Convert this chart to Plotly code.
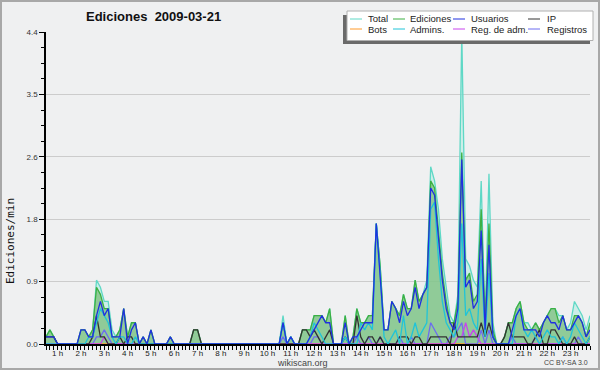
import plotly.graph_objects as go

# 10-minute bins, 00:30 ... 23:50 (hours)
HOURS = [(i + 3) / 6 for i in range(141)]

HOUR_TICKS = [1, 2, 3, 4, 5, 6, 7, 8, 9, 10, 11, 12, 13, 14, 15, 16, 17, 18, 19, 20, 21, 22, 23]
HOUR_LABELS = ["1 h", "2 h", "3 h", "4 h", "5 h", "6 h", "7 h", "8 h", "9 h", "10 h", "11 h", "12 h",
               "13 h", "14 h", "15 h", "16 h", "17 h", "18 h", "19 h", "20 h", "21 h", "22 h", "23 h"]
Y_TICKS = [0, 0.88, 1.76, 2.64, 3.52, 4.4]
Y_LABELS = ["0.0", "0.9", "1.8", "2.6", "3.5", "4.4"]

TOTAL = [
    .1, .2, .1, 0, 0, 0, 0, 0, 0, .2,
    .2, .1, .2, .9, .8, .6, .6, .2, .1, .2,
    .5, .1, .3, .3, 0, .1, 0, .2, 0, 0,
    0, 0, .1, 0, 0, 0, 0, 0, .2, .2,
    0, 0, 0, 0, 0, 0, 0, 0, 0, 0,
    0, 0, 0, 0, 0, 0, 0, 0, 0, 0,
    0, .4, 0, .1, 0, 0, .2, .2, .2, .4,
    .4, .4, .3, .5, 0, 0, 0, .4, 0, .1,
    .5, .3, .3, .4, .4, 1.7, 1.1, .2, .2, .6,
    .5, .4, .7, .5, .5, .9, .6, .7, .9, 2.5,
    2.3, 1.9, 1.2, .8, .4, .3, .7, 4.4, 1.2, 1.1,
    .9, .8, 2.3, .3, 2.4, .3, 0, 0, .1, .3,
    .3, .5, .6, .3, .3, .2, .3, .2, .3, .4,
    .5, .5, .4, .4, .2, .3, .6, .5, .4, .2,
    .4]

EDICIONES = [
    .1, .2, .1, 0, 0, 0, 0, 0, 0, .2,
    .2, .1, .2, .8, .7, .5, .5, .1, .1, .2,
    .5, .1, .3, .3, 0, .1, 0, .2, 0, 0,
    0, 0, .1, 0, 0, 0, 0, 0, .2, .2,
    0, 0, 0, 0, 0, 0, 0, 0, 0, 0,
    0, 0, 0, 0, 0, 0, 0, 0, 0, 0,
    0, .3, 0, .1, 0, 0, .2, .2, .2, .4,
    .4, .4, .3, .5, 0, 0, 0, .4, 0, .1,
    .5, .3, .3, .4, .4, 1.7, 1.1, .2, .2, .6,
    .5, .4, .7, .5, .5, .9, .6, .7, .8, 2.3,
    2.2, 1.6, 1.0, .6, .3, .3, .6, 2.7, .9, 1.0,
    .6, .7, 1.9, .3, 1.7, .2, 0, 0, .1, .3,
    .3, .5, .6, .3, .2, .2, .3, .2, .3, .4,
    .5, .5, .3, .4, .2, .2, .4, .4, .3, .1,
    .3]

USUARIOS = [
    .1, .1, .1, 0, 0, 0, 0, 0, 0, .2,
    .2, .1, .1, .4, .6, .4, .5, .1, .1, .1,
    .5, 0, .2, .3, 0, .1, 0, .2, 0, 0,
    0, 0, .1, 0, 0, 0, 0, 0, 0, 0,
    0, 0, 0, 0, 0, 0, 0, 0, 0, 0,
    0, 0, 0, 0, 0, 0, 0, 0, 0, 0,
    0, .3, 0, .1, 0, 0, 0, 0, .1, .2,
    .3, .4, .3, .3, 0, 0, 0, .3, 0, .1,
    .1, .2, .3, .3, .3, 1.7, 1.0, .2, .2, .6,
    .5, .3, .6, .4, .5, .8, .5, .7, .8, 2.2,
    2.1, 1.5, .9, .5, .3, .2, .5, 2.6, .8, .9,
    .5, .6, 1.6, .2, 1.4, .1, 0, 0, 0, 0,
    .2, .4, .5, .2, .2, .2, .2, .1, .3, .4,
    .3, .3, .2, .4, .2, .2, .3, .4, .3, .1,
    .2]

IP = [
    .1, .1, .1, 0, 0, 0, 0, 0, 0, 0,
    0, 0, .1, .4, .1, .1, 0, 0, 0, .1,
    0, .1, .1, 0, 0, 0, 0, 0, 0, 0,
    0, 0, 0, 0, 0, 0, 0, 0, .2, .2,
    0, 0, 0, 0, 0, 0, 0, 0, 0, 0,
    0, 0, 0, 0, 0, 0, 0, 0, 0, 0,
    0, 0, 0, 0, 0, 0, .2, .2, .1, .2,
    .1, 0, .1, .2, 0, 0, 0, .1, 0, 0,
    .4, .1, 0, .1, .1, 0, .1, 0, 0, 0,
    0, .1, .1, .1, 0, .1, .1, 0, 0, .1,
    .1, .1, .1, .1, 0, .3, .1, .1, .1, .1,
    .1, .1, .3, .1, .3, .1, 0, 0, .1, .3,
    .1, .1, .1, .1, 0, 0, .1, .2, 0, 0,
    .2, .2, .1, 0, 0, 0, .1, 0, 0, 0,
    .1]

BOTS = [0] * 141

ADMINS = [
    0, 0, 0, 0, 0, 0, 0, 0, 0, 0,
    0, .1, .1, .3, .5, .4, .3, .1, 0, .1,
    .1, 0, 0, .1, 0, 0, 0, 0, 0, 0,
    0, 0, 0, 0, 0, 0, 0, 0, 0, 0,
    0, 0, 0, 0, 0, 0, 0, 0, 0, 0,
    0, 0, 0, 0, 0, 0, 0, 0, 0, 0,
    0, .3, 0, .1, 0, 0, 0, 0, .1, .3,
    .2, .1, 0, 0, 0, 0, 0, .1, 0, 0,
    0, .3, .2, .3, .2, 1.7, 1.0, .1, 0, .1,
    .2, 0, .4, 0, .1, .3, .1, .2, .3, 1.9,
    2.0, 1.2, .6, .3, .2, .1, .3, 1.7, .4, .5,
    .3, .2, 1.2, .1, 1.0, .1, 0, 0, 0, 0,
    0, .4, .5, .2, .1, .2, .1, 0, .1, .2,
    .1, .1, 0, .1, 0, .1, .3, .2, .1, 0,
    .1]

REG_ADM = [
    0, 0, 0, 0, 0, 0, 0, 0, 0, 0,
    0, 0, 0, 0, 0, .1, 0, 0, 0, 0,
    0, 0, 0, 0, 0, 0, 0, 0, 0, 0,
    0, 0, 0, 0, 0, 0, 0, 0, 0, 0,
    0, 0, 0, 0, 0, 0, 0, 0, 0, 0,
    0, 0, 0, 0, 0, 0, 0, 0, 0, 0,
    0, 0, 0, 0, 0, 0, 0, 0, 0, 0,
    0, 0, 0, 0, 0, 0, 0, 0, 0, 0,
    0, 0, 0, 0, 0, 0, 0, 0, 0, 0,
    0, 0, 0, 0, 0, 0, 0, 0, 0, 0,
    0, 0, 0, 0, 0, 0, .1, .1, .3, .1,
    .2, .1, 0, 0, 0, 0, 0, 0, 0, 0,
    0, 0, 0, 0, 0, 0, 0, 0, 0, 0,
    0, 0, 0, 0, 0, 0, 0, 0, 0, 0,
    0]

REGISTROS = [
    0, 0, 0, 0, 0, 0, 0, 0, 0, 0,
    0, 0, 0, .1, .1, .2, .1, 0, 0, 0,
    0, 0, 0, 0, 0, 0, 0, 0, 0, 0,
    0, 0, 0, 0, 0, 0, 0, 0, 0, 0,
    0, 0, 0, 0, 0, 0, 0, 0, 0, 0,
    0, 0, 0, 0, 0, 0, 0, 0, 0, 0,
    0, .1, 0, 0, 0, 0, 0, 0, 0, .1,
    .1, 0, 0, 0, 0, 0, 0, 0, 0, 0,
    .1, 0, 0, .1, 0, 0, .1, 0, 0, 0,
    0, .1, 0, 0, .1, 0, 0, 0, 0, .3,
    .2, .1, 0, 0, .1, .1, .2, .3, 0, 0,
    0, 0, .2, 0, .2, 0, 0, 0, 0, 0,
    .1, 0, 0, 0, 0, 0, .1, 0, 0, 0,
    0, 0, 0, .1, 0, 0, 0, .1, 0, 0,
    0]

SERIES = ["Total", "Ediciones", "Usuarios", "IP", "Bots", "Admins.", "Reg. de adm.", "Registros"]
COLORS = {"Total": "#5fd8c6", "Ediciones": "#3cb043", "Usuarios": "#2030e0", "IP": "#333333",
          "Bots": "#ff9a2a", "Admins.": "#20c4d8", "Reg. de adm.": "#c844ee", "Registros": "#6c6cf0"}
VALUES = {"Total": TOTAL, "Ediciones": EDICIONES, "Usuarios": USUARIOS, "IP": IP, "Bots": BOTS,
          "Admins.": ADMINS, "Reg. de adm.": REG_ADM, "Registros": REGISTROS}

W, H = 600, 370
ML, MR, MT, MB = 46, 10, 32, 26
PW, PH = W - ML - MR, H - MT - MB


def px(x):
    return (x - ML) / PW


def py(y):
    return (H - MB - y) / PH


fig = go.Figure()
fig.add_trace(go.Scatter(x=HOURS, y=TOTAL, mode="lines", fill="tozeroy",
                         fillcolor="rgba(175,236,224,0.55)",
                         line=dict(color=COLORS["Total"], width=1.3), name="Total"))
fig.add_trace(go.Scatter(x=HOURS, y=EDICIONES, mode="lines", fill="tozeroy",
                         fillcolor="rgba(120,190,120,0.72)",
                         line=dict(color=COLORS["Ediciones"], width=1.3), name="Ediciones"))
for name in ["Bots", "Registros", "Reg. de adm.", "IP", "Admins.", "Usuarios"]:
    fig.add_trace(go.Scatter(x=HOURS, y=VALUES[name], mode="lines",
                             line=dict(color=COLORS[name], width=1.3), name=name))

shapes = []
annotations = []
# outer frame
shapes.append(dict(type="rect", xref="paper", yref="paper", x0=px(1), x1=px(599), y0=py(1), y1=py(369),
                   line=dict(color="#a8a8a8", width=2), layer="above"))
# legend box with shadow
shapes.append(dict(type="rect", xref="paper", yref="paper", x0=px(343), x1=px(590), y0=py(15), y1=py(44),
                   fillcolor="#6a6a6a", line=dict(width=0), layer="above"))
shapes.append(dict(type="rect", xref="paper", yref="paper", x0=px(347), x1=px(593), y0=py(11), y1=py(40.5),
                   fillcolor="white", line=dict(color="#b0b0b0", width=1), layer="above"))

cols = [(350, 366), (393, 408), (453, 469), (528, 545)]
rows = [19, 29]
for k, name in enumerate(SERIES):
    c, r = k % 4, k // 4
    lx, tx = cols[c]
    yy = rows[r]
    shapes.append(dict(type="line", xref="paper", yref="paper", x0=px(lx), x1=px(lx + 12), y0=py(yy), y1=py(yy),
                       line=dict(color=COLORS[name], width=1), layer="above"))
    annotations.append(dict(text=name, xref="paper", yref="paper", x=px(tx), y=py(yy), xanchor="left",
                            yanchor="middle", showarrow=False,
                            font=dict(family="Liberation Sans", size=9.5, color="#222")))

annotations.append(dict(text="<b>Ediciones\u00a0 2009-03-21</b>", xref="paper", yref="paper", x=px(153.5),
                        y=py(16.5), xanchor="center", yanchor="middle", showarrow=False,
                        font=dict(family="Liberation Sans", size=13, color="#111")))
annotations.append(dict(text="Ediciones/min", xref="paper", yref="paper", x=px(10), y=py(241), textangle=-90,
                        xanchor="center", yanchor="middle", showarrow=False,
                        font=dict(family="DejaVu Sans Mono", size=11, color="#111")))
annotations.append(dict(text="wikiscan.org", xref="paper", yref="paper", x=px(302), y=py(363),
                        xanchor="center", yanchor="middle", showarrow=False,
                        font=dict(family="Liberation Sans", size=9, color="#444")))
annotations.append(dict(text="CC BY-SA 3.0", xref="paper", yref="paper", x=px(590), y=py(362.5),
                        xanchor="right", yanchor="middle", showarrow=False,
                        font=dict(family="Liberation Sans", size=7, color="#444")))

fig.update_layout(
    width=W, height=H, margin=dict(l=ML, r=MR, t=MT, b=MB),
    paper_bgcolor="#eff0f1", plot_bgcolor="#eff0f1",
    showlegend=False, shapes=shapes, annotations=annotations,
    xaxis=dict(range=[0.5, 23.8333], tickmode="array", tickvals=HOUR_TICKS, ticktext=HOUR_LABELS,
               ticks="outside", ticklen=4, tickcolor="black", tickwidth=1, ticklabelstandoff=-3,
               tickfont=dict(family="Liberation Sans", size=8, color="#222"),
               showline=True, linecolor="black", linewidth=1.5, showgrid=False, zeroline=False,
               minor=dict(ticks="outside", tick0=0.5, dtick=1 / 6, ticklen=4, tickcolor="black",
                          tickwidth=1, showgrid=False)),
    yaxis=dict(range=[0, 4.4], tickmode="array", tickvals=Y_TICKS, ticktext=Y_LABELS,
               ticks="outside", ticklen=5, tickcolor="black", tickwidth=1,
               tickfont=dict(family="Liberation Sans", size=8, color="#333"),
               showline=True, linecolor="black", linewidth=1.5, showgrid=True,
               gridcolor="#cccccc", gridwidth=1, zeroline=False,
               minor=dict(ticks="outside", tick0=0, dtick=0.22, ticklen=3, tickcolor="black",
                          tickwidth=1, showgrid=False)),
)

fig.write_html("out.html", config={"displayModeBar": False},
               post_script="document.body.style.margin='0';document.body.style.overflow='hidden';")
